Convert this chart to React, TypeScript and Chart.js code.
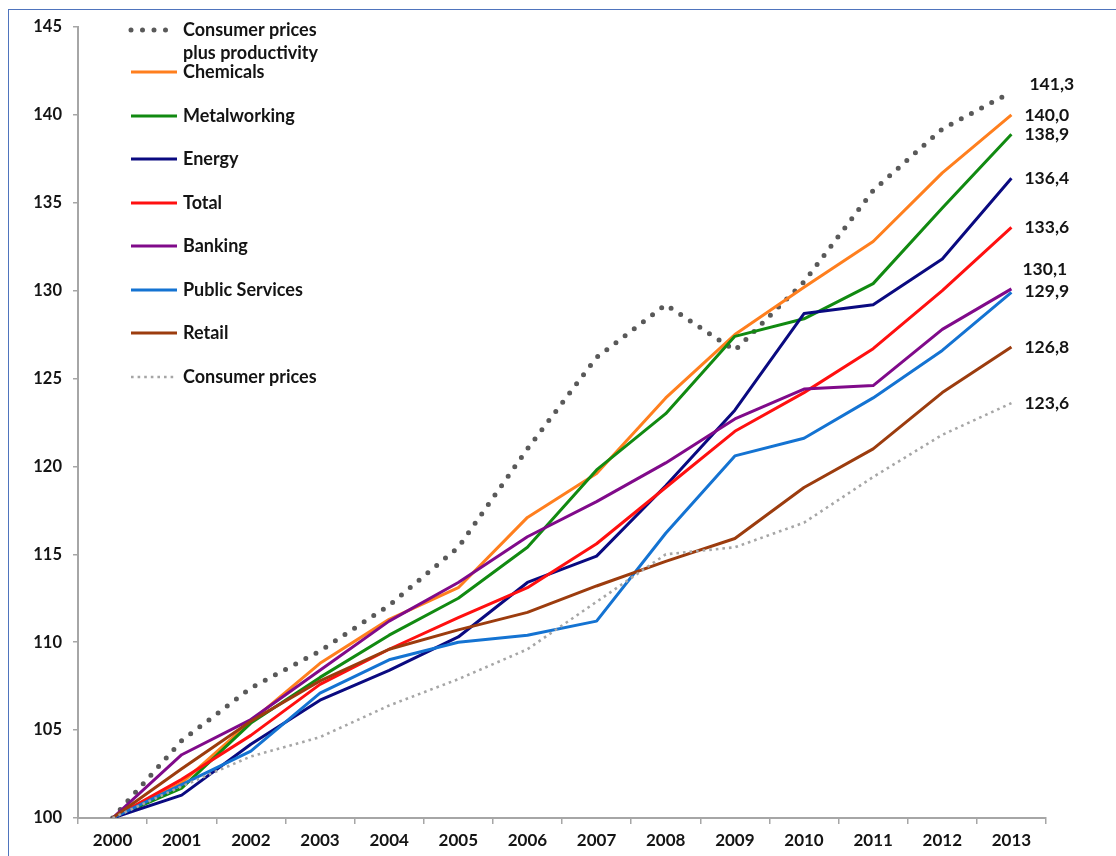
import React, { useEffect, useRef } from 'react';
import { Chart, registerables } from 'chart.js';

Chart.register(...registerables);

// Index values, 2000 = 100
const years = ['2000', '2001', '2002', '2003', '2004', '2005', '2006', '2007', '2008', '2009', '2010', '2011', '2012', '2013'];

const cpiPlusProductivity = [100, 104.4, 107.4, 109.5, 112.1, 115.4, 121.0, 126.2, 129.2, 126.6, 130.5, 135.7, 139.2, 141.3];
const chemicals = [100, 102.0, 105.5, 108.8, 111.3, 113.1, 117.1, 119.6, 123.9, 127.5, 130.2, 132.8, 136.7, 140.0];
const metalworking = [100, 101.7, 105.4, 108.0, 110.4, 112.5, 115.4, 119.8, 123.0, 127.4, 128.4, 130.4, 134.7, 138.9];
const energy = [100, 101.3, 104.2, 106.7, 108.4, 110.3, 113.4, 114.9, 118.9, 123.2, 128.7, 129.2, 131.8, 136.4];
const total = [100, 102.2, 104.7, 107.6, 109.6, 111.4, 113.1, 115.6, 118.8, 122.0, 124.2, 126.7, 130.0, 133.6];
const banking = [100, 103.6, 105.6, 108.4, 111.2, 113.4, 116.0, 118.0, 120.2, 122.7, 124.4, 124.6, 127.8, 130.1];
const publicServices = [100, 101.9, 103.8, 107.1, 109.0, 110.0, 110.4, 111.2, 116.2, 120.6, 121.6, 123.9, 126.6, 129.9];
const retail = [100, 102.8, 105.5, 107.8, 109.6, 110.7, 111.7, 113.2, 114.6, 115.9, 118.8, 121.0, 124.2, 126.8];
const consumerPrices = [100, 101.8, 103.5, 104.6, 106.4, 107.9, 109.6, 112.3, 115.0, 115.4, 116.8, 119.4, 121.8, 123.6];

const seriesLabels = [
  'Consumer prices\nplus productivity',
  'Chemicals',
  'Metalworking',
  'Energy',
  'Total',
  'Banking',
  'Public Services',
  'Retail',
  'Consumer prices',
];

const yTicks = { min: 100, max: 145, step: 5 };

const FONT = 'Lato, "Open Sans", "DejaVu Sans", sans-serif';
const TEXT = '#141414';
const AXIS = '#a6a6a6';

type Style = { color: string; width: number; dash?: number[]; cap?: CanvasLineCap };

const styles: Style[] = [
  { color: '#595959', width: 5, dash: [0, 11.5], cap: 'round' },
  { color: '#ff7f1e', width: 3 },
  { color: '#118a11', width: 3 },
  { color: '#0a0a80', width: 3 },
  { color: '#ff1010', width: 3 },
  { color: '#800a8a', width: 3 },
  { color: '#1473d2', width: 3 },
  { color: '#9c3c0e', width: 3 },
  { color: '#a6a6a6', width: 2.6, dash: [2.6, 4], cap: 'butt' },
];

// legend rows: y of each swatch/label, drawn to the left inside the plot
const legendRows = [30, 72, 116, 159, 203, 246, 290, 333, 377];

// shift of each end-value label relative to its last point
const endLabelShift = [
  { dx: 18, dy: -8 },
  { dx: 13, dy: 0 },
  { dx: 13, dy: 0 },
  { dx: 13, dy: 0 },
  { dx: 13, dy: 0 },
  { dx: 11, dy: -20 },
  { dx: 13, dy: -1 },
  { dx: 13, dy: 0 },
  { dx: 13, dy: 0 },
];

const sideLegend = {
  id: 'sideLegend',
  afterDraw(chart: any) {
    const ctx: CanvasRenderingContext2D = chart.ctx;
    ctx.save();
    chart.data.datasets.forEach((ds: any, i: number) => {
      const y = legendRows[i];
      const st = styles[i];
      ctx.strokeStyle = st.color;
      ctx.lineWidth = st.width;
      ctx.lineCap = st.cap || 'butt';
      ctx.setLineDash(st.dash || []);
      ctx.beginPath();
      ctx.moveTo(131, y);
      ctx.lineTo(177, y);
      ctx.stroke();
      ctx.setLineDash([]);
      ctx.fillStyle = TEXT;
      ctx.font = `bold 18px ${FONT}`;
      ctx.textAlign = 'left';
      ctx.textBaseline = 'middle';
      String(ds.label)
        .split('\n')
        .forEach((line, k) => ctx.fillText(line, 183, y + k * 23));
    });
    ctx.restore();
  },
};

const endLabels = {
  id: 'endLabels',
  afterDatasetsDraw(chart: any) {
    const ctx: CanvasRenderingContext2D = chart.ctx;
    ctx.save();
    ctx.fillStyle = TEXT;
    ctx.font = `bold 17.5px ${FONT}`;
    ctx.textAlign = 'left';
    ctx.textBaseline = 'middle';
    chart.data.datasets.forEach((ds: any, i: number) => {
      const meta = chart.getDatasetMeta(i);
      const last = ds.data.length - 1;
      const pt = meta.data[last];
      const text = Number(ds.data[last]).toFixed(1).replace('.', ',');
      const s = endLabelShift[i];
      ctx.fillText(text, pt.x + s.dx, pt.y + s.dy);
    });
    ctx.restore();
  },
};

export default function App() {
  const ref = useRef<HTMLCanvasElement>(null);

  useEffect(() => {
    if (!ref.current) return;
    const values = [
      cpiPlusProductivity,
      chemicals,
      metalworking,
      energy,
      total,
      banking,
      publicServices,
      retail,
      consumerPrices,
    ];
    const n = values.length;
    const chart = new Chart(ref.current, {
      type: 'line',
      data: {
        labels: years,
        datasets: values.map((data, i) => ({
          label: seriesLabels[i],
          data,
          borderColor: styles[i].color,
          backgroundColor: styles[i].color,
          borderWidth: styles[i].width,
          borderDash: styles[i].dash || [],
          borderCapStyle: styles[i].cap || 'butt',
          borderJoinStyle: 'round',
          pointRadius: 0,
          tension: 0,
          fill: false,
          order: n - i,
        })),
      },
      options: {
        responsive: false,
        animation: false,
        layout: { padding: { left: 0, right: 70, top: 27, bottom: 0 } },
        plugins: {
          legend: { display: false },
          tooltip: { enabled: false },
        },
        scales: {
          x: {
            type: 'category',
            offset: true,
            grid: {
              offset: true,
              drawOnChartArea: false,
              drawTicks: true,
              tickLength: 6,
              color: AXIS,
              lineWidth: 1.5,
            },
            border: { display: true, color: AXIS, width: 2 },
            ticks: {
              color: TEXT,
              font: { family: FONT, size: 17, weight: 'bold' },
              padding: 6,
              maxRotation: 0,
              autoSkip: false,
            },
            afterFit: (s: any) => {
              s.height = 38;
            },
          },
          y: {
            min: yTicks.min,
            max: yTicks.max,
            grid: {
              drawOnChartArea: false,
              drawTicks: true,
              tickLength: 5,
              color: AXIS,
              lineWidth: 1.5,
            },
            border: { display: true, color: AXIS, width: 2 },
            ticks: {
              stepSize: yTicks.step,
              color: TEXT,
              font: { family: FONT, size: 16.5, weight: 'bold' },
              padding: 11,
            },
            afterFit: (s: any) => {
              s.width = 78;
            },
          },
        },
      },
      plugins: [sideLegend, endLabels],
    } as any);
    return () => chart.destroy();
  }, []);

  return (
    <div
      style={{
        position: 'fixed',
        left: 0,
        top: 0,
        width: 1116,
        height: 856,
        overflow: 'hidden',
        background: '#ffffff',
      }}
    >
      <div
        style={{
          position: 'absolute',
          left: 8,
          top: 9,
          width: 1300,
          height: 1000,
          borderLeft: '1.5px solid #4f74bd',
          borderTop: '1.5px solid #4f74bd',
        }}
      />
      <canvas
        ref={ref}
        width={1116}
        height={856}
        style={{ position: 'absolute', left: 0, top: 0, width: 1116, height: 856 }}
      />
    </div>
  );
}
